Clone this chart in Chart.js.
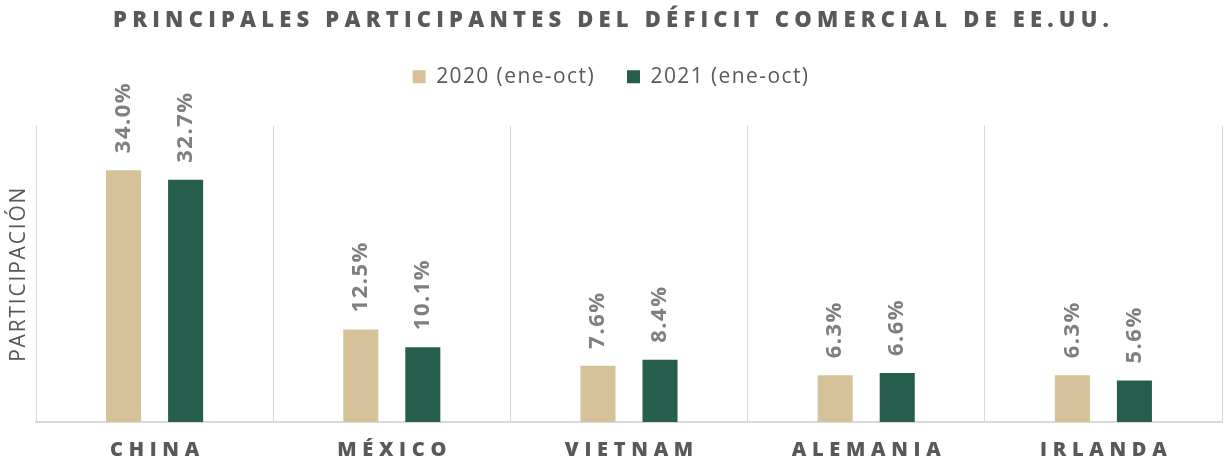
<!DOCTYPE html>
<html lang="es">
<head>
<meta charset="utf-8">
<title>Principales participantes del déficit comercial de EE.UU.</title>
<script src="https://cdn.jsdelivr.net/npm/chart.js@4/dist/chart.umd.min.js"></script>
<style>
  html, body { margin: 0; padding: 0; background: #ffffff; }
  #wrap { position: relative; width: 1225px; height: 466px; }
</style>
</head>
<body>
<div id="wrap"><canvas id="deficit-chart"></canvas></div>
<script>
// Participación (%) en el déficit comercial de EE.UU.
const countries = ['CHINA', 'MÉXICO', 'VIETNAM', 'ALEMANIA', 'IRLANDA'];
const share2020 = [34.0, 12.5, 7.6, 6.3, 6.3];
const share2021 = [32.7, 10.1, 8.4, 6.6, 5.6];
const seriesNames = ['2020 (ene-oct)', '2021 (ene-oct)'];
const yMin = 0;
const yMax = 40;

const FONT = "'Open Sans', 'DejaVu Sans', sans-serif";
const TEXT_DARK = '#595959';
const LABEL_GREY = '#7f7f7f';
const GRID = '#d9d9d9';

// canvas letter spacing around a method of a chart box / scale
function addSpacing(obj, method, px, shift) {
    if (!obj || obj['_sp_' + method]) return;
    const orig = obj[method];
    obj[method] = function (...args) {
        const ctx = this.ctx;
        ctx.save();
        ctx.letterSpacing = px + 'px';
        if (shift) ctx.translate(px / 2, 0);
        const r = orig.apply(this, args);
        ctx.restore();
        return r;
    };
    obj['_sp_' + method] = true;
}

const layoutTweaks = {
    id: 'layoutTweaks',
    beforeLayout(chart) {
        const legend = chart.legend;
        if (legend && !legend._extra) {
            addSpacing(legend, 'fit', 1.4, false);
            addSpacing(legend, 'draw', 1.4, false);
            const fit = legend.fit;
            legend.fit = function () {
                fit.call(this);
                this.height += 28.5; // gap between legend and plot
            };
            legend._extra = true;
        }
        addSpacing(chart.titleBlock, 'draw', 5.2, true);
    },
    afterLayout(chart) {
        addSpacing(chart.scales.x, 'drawLabels', 5.7, true);
        addSpacing(chart.scales.y, 'drawTitle', 1.8, false);
    }
};

// rotated value labels above each bar
const barValueLabels = {
    id: 'barValueLabels',
    afterDatasetsDraw(chart) {
        const ctx = chart.ctx;
        chart.data.datasets.forEach((ds, i) => {
            const meta = chart.getDatasetMeta(i);
            if (meta.hidden) return;
            meta.data.forEach((bar, j) => {
                ctx.save();
                ctx.letterSpacing = '1.5px';
                ctx.font = 'bold 22px ' + FONT;
                ctx.fillStyle = LABEL_GREY;
                ctx.textAlign = 'left';
                ctx.textBaseline = 'middle';
                ctx.translate(bar.x, bar.y - 17);
                ctx.rotate(-Math.PI / 2);
                ctx.fillText(ds.data[j].toFixed(1) + '%', 0, 0);
                ctx.restore();
            });
        });
    }
};

const ctx = document.getElementById('deficit-chart').getContext('2d');
new Chart(ctx, {
    type: 'bar',
    data: {
        labels: countries,
        datasets: [
            {
                label: seriesNames[0],
                data: share2020,
                backgroundColor: '#d5c29b',
                borderWidth: 0,
                categoryPercentage: 0.523,
                barPercentage: 0.565
            },
            {
                label: seriesNames[1],
                data: share2021,
                backgroundColor: '#275d4c',
                borderWidth: 0,
                categoryPercentage: 0.523,
                barPercentage: 0.565
            }
        ]
    },
    options: {
        responsive: true,
        maintainAspectRatio: false,
        animation: false,
        layout: { padding: { left: 0, right: 3, top: 0, bottom: 0 } },
        plugins: {
            title: {
                display: true,
                text: 'PRINCIPALES PARTICIPANTES DEL DÉFICIT COMERCIAL DE EE.UU.',
                color: TEXT_DARK,
                font: { family: FONT, size: 22, weight: 800, lineHeight: 1.2 },
                padding: { top: 7.8, bottom: 0 }
            },
            legend: {
                display: true,
                position: 'top',
                labels: {
                    color: TEXT_DARK,
                    font: { family: FONT, size: 21 },
                    boxWidth: 13,
                    boxHeight: 13,
                    padding: 32
                }
            },
            tooltip: { enabled: false }
        },
        scales: {
            x: {
                grid: {
                    display: true,
                    color: GRID,
                    lineWidth: 1,
                    drawTicks: false,
                    offset: true
                },
                border: { display: true, color: GRID, width: 2 },
                ticks: {
                    color: TEXT_DARK,
                    font: { family: FONT, size: 20, weight: 800 },
                    padding: 16
                },
                afterFit(scale) {
                    scale.height = 44;
                }
            },
            y: {
                min: yMin,
                max: yMax,
                grid: { display: false, drawTicks: false },
                border: { display: false },
                ticks: { display: false },
                title: {
                    display: true,
                    text: 'PARTICIPACIÓN',
                    color: TEXT_DARK,
                    font: { family: FONT, size: 21, lineHeight: 1.2 },
                    padding: { top: 6.6, bottom: 4.2 }
                }
            }
        }
    },
    plugins: [layoutTweaks, barValueLabels]
});
</script>
</body>
</html>
